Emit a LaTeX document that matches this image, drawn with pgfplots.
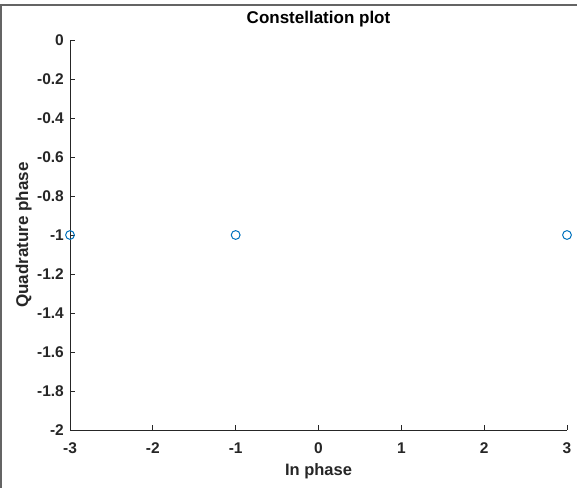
\documentclass[border=0pt]{standalone}
\usepackage{fontspec}
\setmainfont{Liberation Sans}
\usepackage{pgfplots}
\pgfplotsset{compat=1.18}

\definecolor{mblue}{RGB}{0,114,189}
\definecolor{axgray}{RGB}{38,38,38}
\definecolor{framegray}{RGB}{100,100,100}

\begin{document}
\begin{tikzpicture}
  \useasboundingbox (0,0) rectangle (577bp,488bp);
  % window frame
  \draw[framegray, line width=2bp] (1.2bp,0) -- (1.2bp,483bp) -- (577bp,483bp);
  \begin{axis}[
    at={(70bp,58bp)}, anchor=south west,
    scale only axis,
    width=497bp, height=390bp,
    xmin=-3, xmax=3, ymin=-2, ymax=0,
    axis x line*=bottom, axis y line*=left,
    axis line style={axgray, line width=0.8bp, -},
    every tick/.style={axgray, line width=0.8bp},
    major tick length=5bp,
    tick align=inside,
    xtick={-3,-2,-1,0,1,2,3},
    xticklabels={-3,-2,-1,0,1,2,3},
    ytick={-2,-1.8,-1.6,-1.4,-1.2,-1,-0.8,-0.6,-0.4,-0.2,0},
    yticklabels={-2,-1.8,-1.6,-1.4,-1.2,-1,-0.8,-0.6,-0.4,-0.2,0},
    tick label style={font=\bfseries\fontsize{15.5bp}{18bp}\selectfont, text=axgray,
      inner sep=0pt, text height=11.1bp, text depth=0pt},
    xticklabel style={anchor=north, yshift=-12.5bp},
    yticklabel style={anchor=east, xshift=-6bp},
    title={Constellation plot},
    title style={at={(axis description cs:0.5,1.0282)}, anchor=base, inner sep=0pt,
      font=\bfseries\fontsize{17bp}{19bp}\selectfont},
    xlabel={In phase},
    ylabel={Quadrature phase},
    every axis x label/.style={at={(axis description cs:0.5,-0.1154)}, anchor=base, inner sep=0pt,
      font=\bfseries\fontsize{16.5bp}{19bp}\selectfont, text=axgray},
    every axis y label/.style={at={(axis description cs:-0.0845,0.5)}, rotate=90, anchor=base, inner sep=0pt,
      font=\bfseries\fontsize{17bp}{19bp}\selectfont, text=axgray},
    clip=false,
  ]
    \addplot[only marks, mark=o, mark size=4.4bp, color=mblue, mark options={line width=1bp}]
      coordinates {(-3,-1) (-1,-1) (3,-1)};
  \end{axis}
\end{tikzpicture}
\end{document}
